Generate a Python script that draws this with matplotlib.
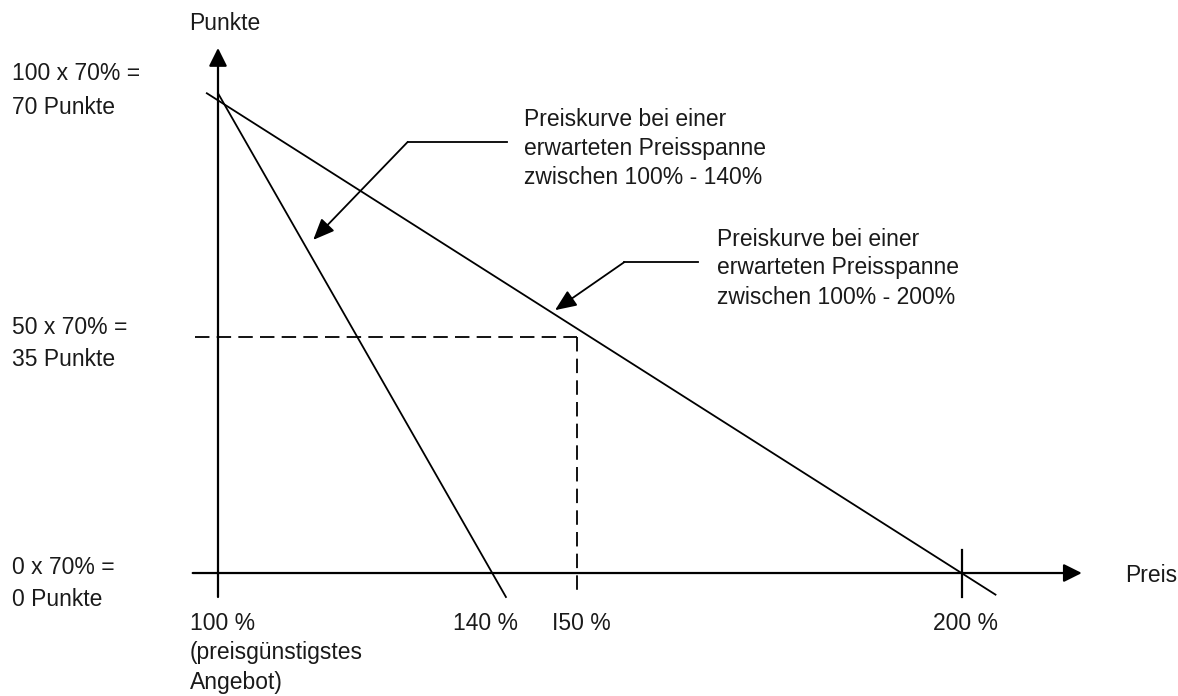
import matplotlib.pyplot as plt

# Preiskurven (Preis in %, Punkte)
kurve_140_x = [100, 138.7]
kurve_140_y = [71.0, -3.55]
kurve_200_x = [98.5, 204.5]
kurve_200_y = [71.0, -3.2]

# Hilfslinien bei 150 % / 35 Punkte
hilfs_h_x = [96.9, 148.25]
hilfs_h_y = [35.0, 35.0]
hilfs_v_x = [148.25, 148.25]
hilfs_v_y = [35.0, -3.55]

# Achsen
x_achse = [96.6, 216.1]
y_achse = [-3.55, 77.7]
tick_200_y = [3.4, -3.55]

# Hinweispfeile: (Start horizontal, Knick, Spitze)
pfeil_140 = [(138.8, 63.8), (125.5, 63.8), (112.8, 49.3)]
pfeil_200 = [(164.5, 46.0), (154.6, 46.0), (145.3, 38.9)]

# Beschriftungen (Text, x-Pixel, y-Pixel)
links_labels = [("100 x 70% =", 12, 73), ("70 Punkte", 12, 107),
                ("50 x 70% =", 12, 327), ("35 Punkte", 12, 360),
                ("0 x 70% =", 12, 567), ("0 Punkte", 12, 599)]
unten_labels = [("100 %", 190, 623), ("(preisgünstigstes", 190, 652),
                ("Angebot)", 190, 683), ("140 %", 453, 623),
                ("I50 %", 552, 623), ("200 %", 933, 623)]
kurven_text_140 = ["Preiskurve bei einer", "erwarteten Preisspanne",
                   "zwischen 100% - 140%"]
kurven_text_200 = ["Preiskurve bei einer", "erwarteten Preisspanne",
                   "zwischen 100% - 200%"]

W, H = 1178, 696
plt.rcParams['font.family'] = ['Liberation Sans', 'DejaVu Sans']
fig = plt.figure(figsize=(W / 100, H / 100), dpi=100)
ax = fig.add_axes([0, 0, 1, 1])
ax.set_xlim(70.70, 229.03)
ax.set_ylim(-18.2, 84.8)
ax.axis('off')

fs = 16.5
tc = '#1a1a1a'


def txt(s, x, y, **kw):
    fig.text(x / W, 1 - y / H, s, fontsize=fs, color=tc, va='center',
             ha='left', **kw)


# Achsen mit Pfeilspitzen
ax.annotate('', xy=(x_achse[1], 0), xytext=(x_achse[0], 0),
            arrowprops=dict(arrowstyle='-|>,head_length=1.1,head_width=0.55',
                            lw=1.6, color='black', shrinkA=0, shrinkB=0))
ax.annotate('', xy=(100, y_achse[1]), xytext=(100, y_achse[0]),
            arrowprops=dict(arrowstyle='-|>,head_length=1.1,head_width=0.55',
                            lw=1.6, color='black', shrinkA=0, shrinkB=0))
ax.plot([200, 200], tick_200_y, color='black', lw=1.6)

# Kurven
ax.plot(kurve_140_x, kurve_140_y, color='black', lw=1.3)
ax.plot(kurve_200_x, kurve_200_y, color='black', lw=1.3)

# Hilfslinien
ax.plot(hilfs_h_x, hilfs_h_y, color='black', lw=1.3, linestyle=(0, (8, 4)))
ax.plot(hilfs_v_x, hilfs_v_y, color='black', lw=1.3, linestyle=(0, (8, 4)))

# Hinweispfeile
for p in [pfeil_140, pfeil_200]:
    ax.plot([p[0][0], p[1][0]], [p[0][1], p[1][1]], color='black', lw=1.3)
    ax.annotate('', xy=p[2], xytext=p[1],
                arrowprops=dict(arrowstyle='-|>,head_length=1.3,head_width=0.55',
                                lw=1.3, color='black', shrinkA=0, shrinkB=0))

# Texte
txt("Punkte", 189, 23)
txt("Preis", 1125, 575)
for s, x, y in links_labels + unten_labels:
    txt(s, x, y)
for i, s in enumerate(kurven_text_140):
    txt(s, 524, 119 + 29 * i)
for i, s in enumerate(kurven_text_200):
    txt(s, 717, 239 + 29 * i)

fig.savefig('out.png', dpi=100)
